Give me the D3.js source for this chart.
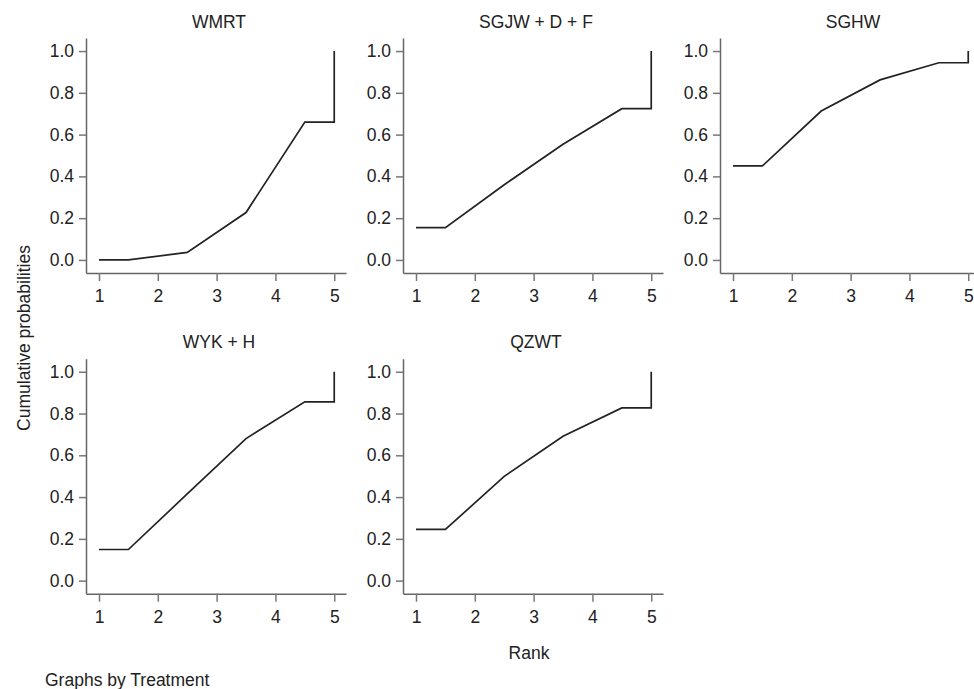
<!DOCTYPE html>
<html>
<head>
<meta charset="utf-8">
<script src="https://cdn.jsdelivr.net/npm/d3@7"></script>
<style>
  body { margin: 0; background: #fff; }
  svg text { font-family: "Liberation Sans", Arial, Helvetica, sans-serif; fill: #222; }
</style>
</head>
<body>
<div id="chart"></div>
<script>
// cumulative rank probabilities
const treatments = ["WMRT", "SGJW + D + F", "SGHW", "WYK + H", "QZWT"]
const rankX = [1, 1.5, 2.5, 3.5, 4.5, 5, 5]
const wmrt = [0, 0, 0.036, 0.227, 0.66, 0.66, 1]
const sgjw = [0.155, 0.155, 0.36, 0.554, 0.724, 0.724, 1]
const sghw = [0.45, 0.45, 0.713, 0.862, 0.944, 0.944, 1]
const wyk = [0.149, 0.149, 0.415, 0.68, 0.856, 0.856, 1]
const qzwt = [0.245, 0.245, 0.499, 0.691, 0.827, 0.827, 1]
const xTicks = [1, 2, 3, 4, 5]
const yTicks = [0, 0.2, 0.4, 0.6, 0.8, 1.0]

const series = [wmrt, sgjw, sghw, wyk, qzwt].map((v, i) => ({
  name: treatments[i],
  values: v.map((p, j) => [rankX[j], p])
}))

const width = 974
const height = 689
const panel_w = 260
const panel_h = 235
const col_left = [86, 403, 720]
const row_top = [38, 358.7]

const svg = d3.select("#chart")
  .append("svg")
  .attr("width", width)
  .attr("height", height)

const x_scale = d3.scaleLinear()
  .domain([0.779, 5.2])
  .range([0, panel_w])

const y_scale = d3.scaleLinear()
  .domain([-0.0625, 1.0625])
  .range([panel_h, 0])

const line = d3.line()
  .x((d) => x_scale(d[0]))
  .y((d) => y_scale(d[1]))

series.forEach((s, i) => {
  const col = i % 3
  const row = Math.floor(i / 3)
  const g = svg.append("g")
    .attr("transform", `translate(${col_left[col]},${row_top[row]})`)

  const y_axis = g.append("g")
    .call(d3.axisLeft(y_scale)
      .tickValues(yTicks)
      .tickFormat(d3.format(".1f"))
      .tickSize(7)
      .tickSizeOuter(0)
      .tickPadding(5))
  const x_axis = g.append("g")
    .attr("transform", `translate(0,${panel_h})`)
    .call(d3.axisBottom(x_scale)
      .tickValues(xTicks)
      .tickFormat(d3.format("d"))
      .tickSize(8)
      .tickSizeOuter(0)
      .tickPadding(9))

  ;[y_axis, x_axis].forEach((a) => {
    a.select(".domain").attr("stroke", "#666").attr("stroke-width", 1.5)
    a.selectAll(".tick line").attr("stroke", "#777").attr("stroke-width", 1.5)
    a.selectAll(".tick text")
      .style("font-size", "17.5px")
      .attr("fill", "#222")
  })

  g.append("path")
    .attr("d", line(s.values))
    .attr("fill", "none")
    .attr("stroke", "#222")
    .attr("stroke-width", 1.7)

  g.append("text")
    .attr("x", panel_w / 2 + 3)
    .attr("y", -10.5)
    .attr("text-anchor", "middle")
    .style("font-size", "17.5px")
    .text(s.name)
})

svg.append("text")
  .attr("transform", "translate(30,338) rotate(-90)")
  .attr("text-anchor", "middle")
  .style("font-size", "17.5px")
  .text("Cumulative probabilities")

svg.append("text")
  .attr("x", 529)
  .attr("y", 659)
  .attr("text-anchor", "middle")
  .style("font-size", "17.5px")
  .text("Rank")

svg.append("text")
  .attr("x", 45)
  .attr("y", 686)
  .style("font-size", "17.5px")
  .text("Graphs by Treatment")
</script>
</body>
</html>
